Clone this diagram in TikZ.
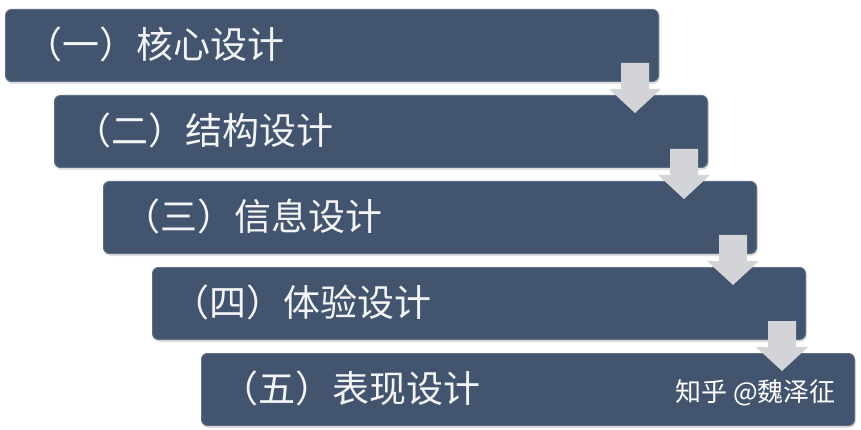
\documentclass[tikz,border=0pt]{standalone}
\usepackage{fontspec}
\newfontfamily\cjk{Noto Sans CJK SC}
\usetikzlibrary{calc}
\definecolor{boxblue}{HTML}{43546E}
\definecolor{boxedge}{HTML}{5F6F86}
\definecolor{arrowgray}{HTML}{D2D4D8}
\definecolor{txt}{HTML}{F3F4F6}
\begin{document}
\begin{tikzpicture}[x=1pt,y=-1pt,
  stagebox/.style={draw=boxedge, line width=1pt, fill=boxblue, rounded corners=6pt,
    minimum width=653pt, minimum height=72pt, inner sep=0pt, anchor=north west},
  boxshadow/.style={fill=black!12, rounded corners=7pt},
  stagetext/.style={anchor=west, inner sep=0pt, text=txt, font=\cjk\fontsize{37}{40}\selectfont},
  marktext/.style={anchor=west, inner sep=0pt, text=white, font=\cjk\fontsize{26}{28}\selectfont},
  downarrow/.style={fill=arrowgray}]
\useasboundingbox (0,0) rectangle (861,430);
\fill[white] (0,0) rectangle (861,430);
\foreach \i/\xx/\yy in {1/5/9,2/54/95,3/103/181,4/152/267,5/201/353}{
  \fill[boxshadow] (\xx+1,\yy+2) rectangle ++(654,73);
  \node[stagebox] (b\i) at (\xx,\yy) {};
}
\node[stagetext] (t1) at ($(b1.west)+(20,-1)$) {（一）核心设计};
\node[stagetext] (t2) at ($(b2.west)+(20,-1)$) {（二）结构设计};
\node[stagetext] (t3) at ($(b3.west)+(20,-1)$) {（三）信息设计};
\node[stagetext] (t4) at ($(b4.west)+(20,-1)$) {（四）体验设计};
\node[stagetext] (t5) at ($(b5.west)+(20,-1)$) {（五）表现设计};
\foreach \a/\b in {1/2,2/3,3/4,4/5}{
  \fill[downarrow] ($(b\a.south east)+(-38,-19)$) -- ($(b\a.south east)+(-10,-19)$)
    -- ($(b\a.south east)+(-10,7)$) -- ($(b\a.south east)+(2,7)$)
    -- ($(b\b.north east)+(-73,18)$)
    -- ($(b\a.south east)+(-50,7)$) -- ($(b\a.south east)+(-38,7)$) -- cycle;
}
\node[marktext] (wm) at (675,393) {知乎 @魏泽征};
\end{tikzpicture}
\end{document}
